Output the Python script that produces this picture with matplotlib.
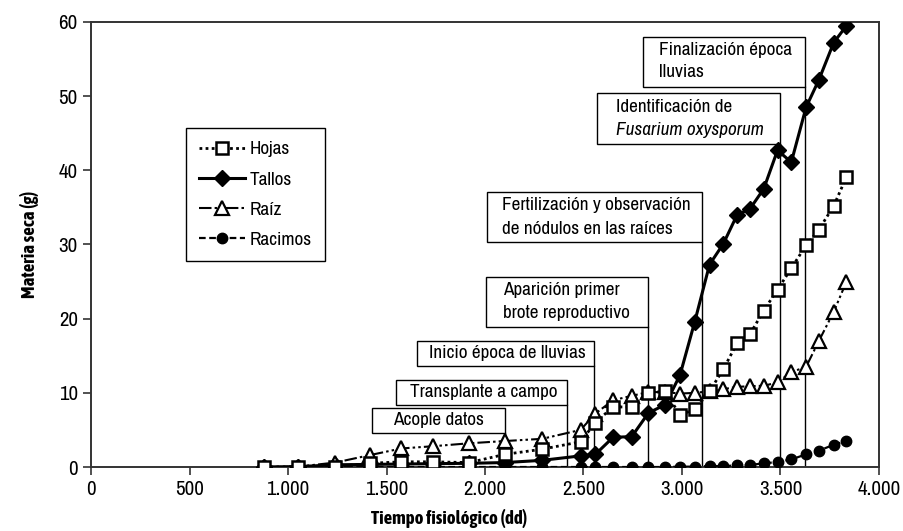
import numpy as np
import matplotlib
matplotlib.use("Agg")
import matplotlib.pyplot as plt
from matplotlib.patches import Rectangle

plt.rcParams["font.family"] = ["Archivo Narrow", "DejaVu Sans"]
negrita = ["Asap Condensed", "DejaVu Sans"]

# tiempo fisiológico (dd) de cada muestreo
tiempo = [880, 1050, 1240, 1415, 1575, 1735, 1920, 2100, 2290, 2485, 2560, 2650, 2745, 2830,
          2915, 2990, 3065, 3140, 3210, 3280, 3345, 3415, 3485, 3555, 3630, 3695, 3770, 3835]

# materia seca (g) por órgano
hojas = [0.0, 0.05, 0.05, 0.5, 0.7, 0.7, 0.6, 1.7, 2.4, 3.4, 6.0, 8.1, 8.1, 10.0,
         10.2, 7.0, 7.8, 10.2, 13.2, 16.7, 17.9, 21.1, 23.9, 26.8, 29.9, 32.0, 35.2, 39.1]
tallos = [0.0, 0.05, 0.3, 0.35, 0.4, 0.45, 0.5, 0.6, 0.9, 1.5, 1.7, 4.0, 4.1, 7.3,
          8.4, 12.4, 19.6, 27.3, 30.1, 34.0, 34.8, 37.5, 42.7, 41.1, 48.5, 52.2, 57.2, 59.5]
raiz = [0.0, 0.05, 0.6, 1.6, 2.5, 2.8, 3.2, 3.5, 3.8, 5.0, 7.2, 9.0, 9.6, 10.1,
        10.1, 9.9, 10.0, 10.2, 10.5, 10.8, 10.9, 10.95, 11.4, 12.8, 13.5, 17.0, 20.9, 25.0]
racimos = [0.0, 0.0, 0.0, 0.0, 0.0, 0.0, 0.0, 0.0, 0.0, 0.0, 0.0, 0.0, 0.0, 0.0,
           0.0, 0.05, 0.05, 0.13, 0.13, 0.22, 0.27, 0.5, 0.67, 1.03, 1.7, 2.2, 3.0, 3.5]

xticks = [0, 500, 1000, 1500, 2000, 2500, 3000, 3500, 4000]
xtick_labels = ["0", "500", "1.000", "1.500", "2.000", "2.500", "3.000", "3.500", "4.000"]
yticks = [0, 10, 20, 30, 40, 50, 60]

# eventos: texto, caja (x0, x1, y0, y1), x y alturas de cada renglón
eventos = [
    (["Acople datos"], (1426, 2101, 4.58, 7.95), 1533, [6.3]),
    (["Transplante a campo"], (1548, 2416, 8.36, 11.73), 1619, [10.1]),
    (["Inicio época de lluvias"], (1655, 2553, 13.62, 16.99), 1716, [15.35]),
    (["Aparición primer", "brote reproductivo"], (2005, 2828, 18.88, 25.62), 2091, [23.85, 20.8]),
    (["Fertilización y observación", "de nódulos en las raíces"], (2010, 3103, 30.34, 37.08), 2086, [35.3, 32.05]),
    (["Identificación de", "Fusarium oxysporum"], (2569, 3497, 43.55, 50.42), 2665, [48.5, 45.4]),
    (["Finalización época", "lluvias"], (2802, 3626, 51.23, 57.97), 2883, [56.2, 53.2]),
]

fig = plt.figure(figsize=(9.04, 5.31), dpi=100)
ax = fig.add_axes([0.1007, 0.1205, 0.8716, 0.8381])

# líneas verticales de cada evento
for textos, (x0, x1, y0, y1), tx, ty in eventos:
    ax.plot([x1, x1], [0, y0], color="black", lw=1, zorder=2)
    ax.add_patch(Rectangle((x0, y0), x1 - x0, y1 - y0, facecolor="white",
                           edgecolor="black", lw=1, zorder=3))
    for t, yy in zip(textos, ty):
        estilo = "italic" if t.startswith("Fusarium") else "normal"
        ax.text(tx, yy, t, fontsize=13.8, style=estilo, ha="left", va="center", zorder=4)

l_rac, = ax.plot(tiempo, racimos, linestyle=(0, (3, 1.6)), color="black", lw=1.6,
                 marker="o", ms=7.5, mfc="black", mec="black", zorder=5)
l_tal, = ax.plot(tiempo, tallos, linestyle="-", color="black", lw=2.2,
                 marker="D", ms=8, mfc="black", mec="black", zorder=6)
l_rai, = ax.plot(tiempo, raiz, linestyle=(0, (6, 1.5, 1.2, 1.5, 1.2, 1.5)), color="black", lw=1.5,
                 marker="^", ms=10, mfc="white", mec="black", mew=1.6, zorder=7)
l_hoj, = ax.plot(tiempo, hojas, linestyle=(0, (1, 1.2)), color="black", lw=2,
                 marker="s", ms=9, mfc="white", mec="black", mew=1.8, zorder=8)

leg = ax.legend([l_hoj, l_tal, l_rai, l_rac], ["Hojas", "Tallos", "Raíz", "Racimos"],
                loc="upper left", bbox_to_anchor=(0.1206, 0.762), fontsize=13.8,
                fancybox=False, edgecolor="black", framealpha=1, handlelength=2.4,
                labelspacing=0.72, borderpad=0.68, handletextpad=0.25, borderaxespad=0)
leg.get_frame().set_linewidth(1)
leg.set_zorder(10)

ax.set_xlim(0, 4000)
ax.set_ylim(0, 60)
ax.set_xticks(xticks, labels=xtick_labels)
ax.set_yticks(yticks)
ax.tick_params(axis="both", direction="out", length=6, width=1.2, labelsize=15, color="#333333")
for s in ax.spines.values():
    s.set_color("#333333")
    s.set_linewidth(1.4)

fig.text(0.033, 0.54, "Materia seca (g)", rotation=90, fontsize=13.5, fontweight="bold",
         family=negrita, ha="center", va="center")
fig.text(0.497, 0.042, "Tiempo fisiológico (dd)", fontsize=13.5, fontweight="bold",
         family=negrita, ha="center", va="top")

fig.savefig("out.png", dpi=100)
